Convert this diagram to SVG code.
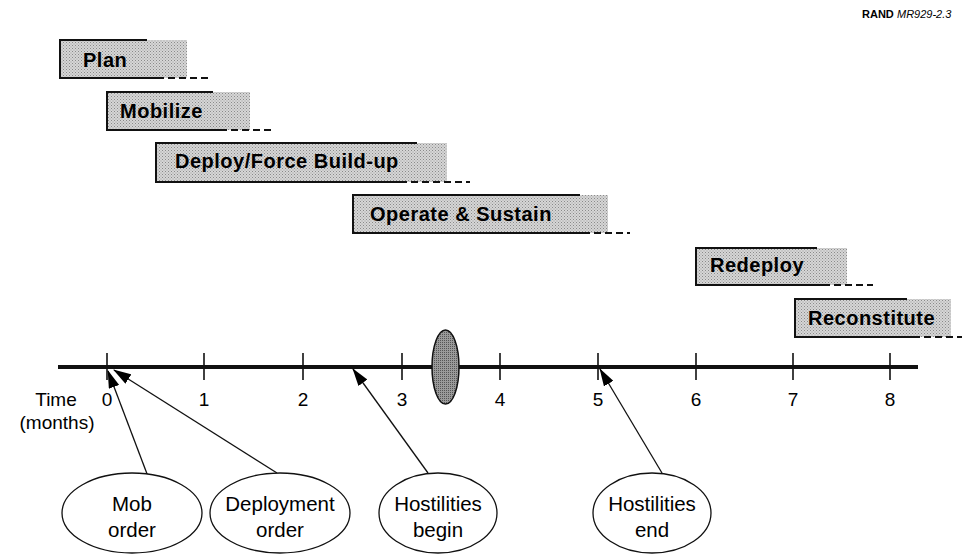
<svg xmlns="http://www.w3.org/2000/svg" width="965" height="556" viewBox="0 0 965 556">
  <style>
    .bar { fill: url(#stipple); }
    .edge { fill: none; stroke: #111; stroke-width: 2; }
    .fade { fill: none; stroke: #111; stroke-width: 2; stroke-dasharray: 7 4; }
    .phase { font-family: "Liberation Sans", Arial, sans-serif; font-weight: bold; font-size: 20px; letter-spacing: 0.5px; fill: #000; }
    .axis { font-family: "Liberation Sans", Arial, sans-serif; font-size: 19px; fill: #000; }
    .tick { stroke: #111; stroke-width: 1.6; }
    .event { fill: #fff; stroke: #111; stroke-width: 1.3; }
    .evtext { font-family: "Liberation Sans", Arial, sans-serif; font-size: 20.5px; fill: #000; text-anchor: middle; }
    .arrow { fill: none; stroke: #111; stroke-width: 1.3; marker-end: url(#head); }
  </style>
  <defs>
    <pattern id="stipple" width="3" height="3" patternUnits="userSpaceOnUse">
      <rect width="3" height="3" fill="#d6d6d6"/>
      <rect x="0" y="0" width="1" height="1" fill="#8a8a8a"/>
      <rect x="1.5" y="1.5" width="1" height="1" fill="#9a9a9a"/>
    </pattern>
    <pattern id="stippleDark" width="2" height="2" patternUnits="userSpaceOnUse">
      <rect width="2" height="2" fill="#9a9a9a"/>
      <rect x="0" y="0" width="1" height="1" fill="#555"/>
    </pattern>
    <marker id="head" viewBox="0 0 18 11" refX="17" refY="5.5" markerWidth="18" markerHeight="11" markerUnits="userSpaceOnUse" orient="auto">
      <path d="M0,0 L18,5.5 L0,11 z" fill="#000"/>
    </marker>
  </defs>

  <!-- figure reference -->
  <g font-family="Liberation Sans, Arial, sans-serif" font-size="11">
    <text x="862" y="18" font-weight="bold">RAND</text>
    <text x="897" y="18" font-style="italic">MR929-2.3</text>
  </g>

  <!-- phase bars -->
  <g id="plan">
    <rect class="bar" x="60" y="40" width="127" height="38"/>
    <path class="edge" d="M147,40 H60 V78 H157"/>
    <path class="fade" d="M157,78 H208"/>
    <text class="phase" x="83" y="67">Plan</text>
  </g>
  <g id="mobilize">
    <rect class="bar" x="107" y="92" width="143" height="38"/>
    <path class="edge" d="M213,92 H107 V130 H220"/>
    <path class="fade" d="M220,130 H272"/>
    <text class="phase" x="120" y="118">Mobilize</text>
  </g>
  <g id="deploy">
    <rect class="bar" x="156" y="143" width="291" height="39"/>
    <path class="edge" d="M417,143 H156 V182 H400"/>
    <path class="fade" d="M400,182 H470"/>
    <text class="phase" x="175" y="168">Deploy/Force Build-up</text>
  </g>
  <g id="operate">
    <rect class="bar" x="353" y="195" width="255" height="38"/>
    <path class="edge" d="M580,195 H353 V233 H583"/>
    <path class="fade" d="M583,233 H630"/>
    <text class="phase" x="370" y="221">Operate &amp; Sustain</text>
  </g>
  <g id="redeploy">
    <rect class="bar" x="696" y="248" width="151" height="37"/>
    <path class="edge" d="M817,248 H696 V285 H823"/>
    <path class="fade" d="M823,285 H873"/>
    <text class="phase" x="710" y="272">Redeploy</text>
  </g>
  <g id="reconstitute">
    <rect class="bar" x="795" y="299" width="156" height="38"/>
    <path class="edge" d="M907,299 H795 V337 H913"/>
    <path class="fade" d="M913,337 H962"/>
    <text class="phase" x="808" y="325">Reconstitute</text>
  </g>

  <!-- time axis -->
  <g id="axis">
    <line x1="58" y1="367" x2="918" y2="367" stroke="#111" stroke-width="4"/>
    <line class="tick" x1="107" y1="353" x2="107" y2="380"/>
    <line class="tick" x1="204" y1="353" x2="204" y2="380"/>
    <line class="tick" x1="303" y1="353" x2="303" y2="380"/>
    <line class="tick" x1="402" y1="353" x2="402" y2="380"/>
    <line class="tick" x1="500" y1="353" x2="500" y2="380"/>
    <line class="tick" x1="598" y1="353" x2="598" y2="380"/>
    <line class="tick" x1="696" y1="353" x2="696" y2="380"/>
    <line class="tick" x1="793" y1="353" x2="793" y2="380"/>
    <line class="tick" x1="890" y1="353" x2="890" y2="380"/>
    <g class="axis" text-anchor="middle">
      <text x="107" y="406">0</text>
      <text x="204" y="406">1</text>
      <text x="303" y="406">2</text>
      <text x="402" y="406">3</text>
      <text x="500" y="406">4</text>
      <text x="598" y="406">5</text>
      <text x="696" y="406">6</text>
      <text x="793" y="406">7</text>
      <text x="890" y="406">8</text>
      <text x="56" y="406">Time</text>
      <text x="57" y="429">(months)</text>
    </g>
  </g>

  <!-- conflict marker -->
  <g id="conflict">
    <ellipse cx="445.5" cy="367" rx="13.5" ry="37" fill="url(#stippleDark)" stroke="#111" stroke-width="1.5"/>
  </g>

  <!-- event callouts -->
  <g id="connectors">
    <line class="arrow" x1="152" y1="487" x2="108" y2="371"/>
    <line class="arrow" x1="277" y1="473" x2="114" y2="370"/>
    <line class="arrow" x1="428" y1="473" x2="353" y2="369"/>
    <line class="arrow" x1="662" y1="473" x2="600" y2="369"/>
  </g>
  <g id="mob-order">
    <ellipse class="event" cx="132" cy="513" rx="70" ry="40"/>
    <text class="evtext" x="132" y="511">Mob</text>
    <text class="evtext" x="132" y="537">order</text>
  </g>
  <g id="deployment-order">
    <ellipse class="event" cx="280" cy="513" rx="70" ry="40"/>
    <text class="evtext" x="280" y="511">Deployment</text>
    <text class="evtext" x="280" y="537">order</text>
  </g>
  <g id="hostilities-begin">
    <ellipse class="event" cx="438" cy="513" rx="59" ry="40"/>
    <text class="evtext" x="438" y="511">Hostilities</text>
    <text class="evtext" x="438" y="537">begin</text>
  </g>
  <g id="hostilities-end">
    <ellipse class="event" cx="652" cy="513" rx="59" ry="40"/>
    <text class="evtext" x="652" y="511">Hostilities</text>
    <text class="evtext" x="652" y="537">end</text>
  </g>
</svg>
